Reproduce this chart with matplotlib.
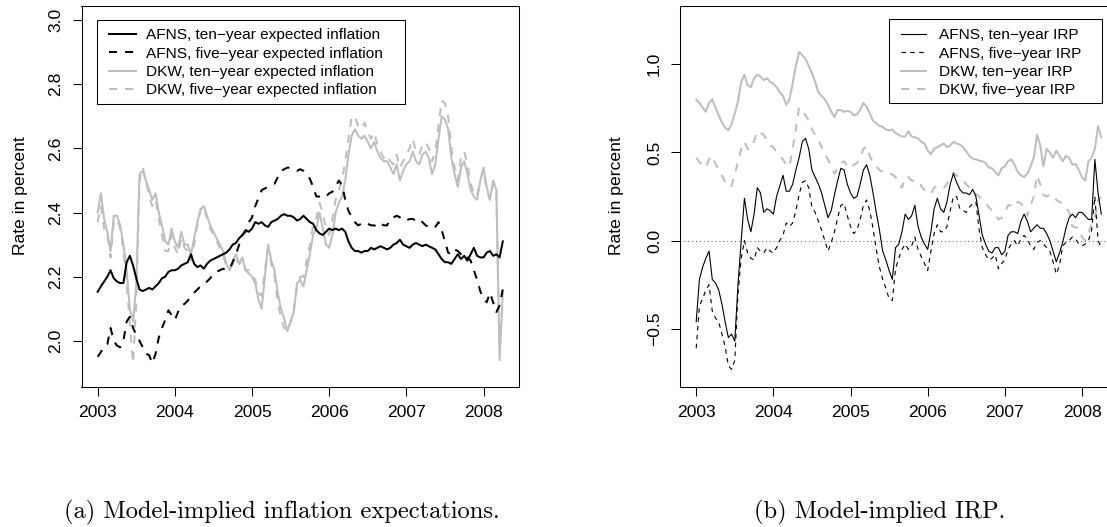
import numpy as np
import matplotlib
matplotlib.use('Agg')
import matplotlib.pyplot as plt
from matplotlib.lines import Line2D
from matplotlib.patches import Rectangle

plt.rcParams['font.family'] = ['Liberation Sans', 'DejaVu Sans']

# semi-monthly observation dates, 2003.0 .. 2008.25
dates = 2003 + np.arange(127) / 24.0

# (a) inflation expectations, percent
afns10_infl = [
    2.153, 2.17, 2.185, 2.2, 2.22, 2.195, 2.185, 2.18, 2.18, 2.245, 2.265, 2.235,
    2.195, 2.16, 2.155, 2.16, 2.165, 2.16, 2.17, 2.18, 2.195, 2.2, 2.215, 2.22,
    2.22, 2.225, 2.235, 2.24, 2.245, 2.27, 2.24, 2.23, 2.235, 2.225, 2.24, 2.25,
    2.255, 2.26, 2.265, 2.27, 2.275, 2.285, 2.30, 2.305, 2.32, 2.33, 2.345, 2.34,
    2.35, 2.37, 2.365, 2.37, 2.36, 2.355, 2.37, 2.375, 2.38, 2.39, 2.395, 2.39,
    2.39, 2.385, 2.375, 2.38, 2.39, 2.38, 2.37, 2.365, 2.345, 2.335, 2.33, 2.34,
    2.35, 2.345, 2.35, 2.345, 2.35, 2.34, 2.31, 2.29, 2.28, 2.28, 2.275, 2.28,
    2.28, 2.29, 2.285, 2.29, 2.295, 2.29, 2.285, 2.29, 2.30, 2.305, 2.315, 2.30,
    2.295, 2.29, 2.30, 2.305, 2.30, 2.295, 2.30, 2.295, 2.29, 2.285, 2.27, 2.255,
    2.245, 2.245, 2.24, 2.255, 2.27, 2.255, 2.265, 2.25, 2.27, 2.29, 2.265, 2.26,
    2.26, 2.275, 2.28, 2.265, 2.27, 2.26, 2.31]
afns5_infl = [
    1.95, 1.965, 1.985, 1.99, 2.04, 2.0, 1.985, 1.98, 2.0, 2.06, 2.075, 2.04,
    2.02, 2.0, 1.98, 1.96, 1.955, 1.93, 1.96, 2.01, 2.04, 2.065, 2.095, 2.08,
    2.065, 2.09, 2.11, 2.115, 2.125, 2.14, 2.15, 2.16, 2.17, 2.175, 2.185, 2.195,
    2.21, 2.215, 2.22, 2.225, 2.22, 2.225, 2.245, 2.27, 2.30, 2.33, 2.34, 2.37,
    2.385, 2.42, 2.445, 2.47, 2.475, 2.48, 2.485, 2.49, 2.51, 2.53, 2.535, 2.54,
    2.54, 2.535, 2.53, 2.535, 2.53, 2.52, 2.505, 2.48, 2.45, 2.45, 2.455, 2.45,
    2.46, 2.465, 2.48, 2.5, 2.485, 2.44, 2.405, 2.385, 2.37, 2.36, 2.365, 2.37,
    2.365, 2.36, 2.36, 2.355, 2.365, 2.36, 2.36, 2.38, 2.385, 2.39, 2.385, 2.375,
    2.375, 2.38, 2.38, 2.375, 2.38, 2.37, 2.36, 2.355, 2.35, 2.355, 2.37, 2.345,
    2.31, 2.275, 2.27, 2.285, 2.28, 2.27, 2.275, 2.26, 2.25, 2.22, 2.19, 2.155,
    2.13, 2.12, 2.15, 2.12, 2.09, 2.11, 2.16]
dkw10_infl = [
    2.40, 2.46, 2.38, 2.34, 2.28, 2.39, 2.39, 2.36, 2.30, 2.22, 2.10, 2.06,
    2.18, 2.52, 2.53, 2.50, 2.47, 2.44, 2.46, 2.40, 2.36, 2.31, 2.30, 2.35,
    2.31, 2.29, 2.34, 2.30, 2.30, 2.27, 2.32, 2.37, 2.41, 2.42, 2.39, 2.36,
    2.34, 2.32, 2.30, 2.28, 2.24, 2.22, 2.25, 2.27, 2.24, 2.26, 2.22, 2.21,
    2.20, 2.18, 2.13, 2.10, 2.20, 2.30, 2.25, 2.22, 2.15, 2.10, 2.07, 2.03,
    2.06, 2.09, 2.18, 2.19, 2.17, 2.22, 2.27, 2.33, 2.35, 2.40, 2.35, 2.30,
    2.29, 2.33, 2.40, 2.43, 2.45, 2.50, 2.58, 2.64, 2.66, 2.64, 2.63, 2.64,
    2.62, 2.60, 2.62, 2.59, 2.57, 2.56, 2.56, 2.54, 2.52, 2.55, 2.50, 2.53,
    2.55, 2.56, 2.59, 2.56, 2.55, 2.58, 2.59, 2.57, 2.52, 2.55, 2.63, 2.70,
    2.69, 2.66, 2.57, 2.52, 2.48, 2.54, 2.56, 2.52, 2.47, 2.45, 2.44, 2.50,
    2.54, 2.48, 2.44, 2.50, 2.47, 1.94, 2.15]
dkw5_infl = [
    2.37, 2.42, 2.35, 2.33, 2.26, 2.37, 2.38, 2.35, 2.28, 2.18, 2.05, 1.93,
    2.12, 2.50, 2.54, 2.50, 2.45, 2.42, 2.44, 2.38, 2.33, 2.28, 2.28, 2.33,
    2.29, 2.27, 2.32, 2.29, 2.28, 2.25, 2.30, 2.36, 2.41, 2.42, 2.38, 2.35,
    2.33, 2.31, 2.29, 2.27, 2.23, 2.22, 2.24, 2.26, 2.24, 2.25, 2.22, 2.22,
    2.21, 2.19, 2.15, 2.14, 2.22, 2.29, 2.24, 2.20, 2.12, 2.07, 2.04, 2.03,
    2.06, 2.10, 2.17, 2.20, 2.20, 2.25, 2.30, 2.36, 2.38, 2.43, 2.40, 2.35,
    2.33, 2.38, 2.44, 2.47, 2.50, 2.56, 2.63, 2.70, 2.70, 2.67, 2.66, 2.68,
    2.65, 2.63, 2.65, 2.61, 2.59, 2.57, 2.58, 2.56, 2.55, 2.58, 2.54, 2.56,
    2.58, 2.60, 2.63, 2.59, 2.58, 2.61, 2.62, 2.60, 2.56, 2.59, 2.67, 2.75,
    2.74, 2.70, 2.60, 2.54, 2.50, 2.57, 2.59, 2.55, 2.49, 2.46, 2.45, 2.50,
    2.53, 2.47, 2.44, 2.49, 2.46, 1.97, 2.13]

# (b) inflation risk premia, percent
afns10_irp = [
    -0.46, -0.22, -0.15, -0.10, -0.06, -0.22, -0.24, -0.28, -0.36, -0.46, -0.55, -0.53,
    -0.57, -0.25, 0.0, 0.24, 0.12, 0.05, 0.15, 0.30, 0.27, 0.16, 0.18, 0.17,
    0.15, 0.25, 0.31, 0.37, 0.28, 0.28, 0.32, 0.40, 0.47, 0.56, 0.58, 0.52,
    0.40, 0.36, 0.32, 0.27, 0.20, 0.13, 0.17, 0.26, 0.34, 0.41, 0.40, 0.32,
    0.27, 0.24, 0.25, 0.32, 0.40, 0.43, 0.37, 0.27, 0.16, 0.06, -0.06, -0.11,
    -0.17, -0.22, -0.04, -0.02, 0.05, 0.15, 0.12, 0.14, 0.20, 0.08, 0.02, -0.02,
    -0.05, 0.05, 0.18, 0.24, 0.18, 0.16, 0.22, 0.32, 0.38, 0.33, 0.29, 0.27,
    0.27, 0.26, 0.29, 0.25, 0.14, 0.03, -0.02, -0.06, -0.07, -0.04, -0.04, -0.08,
    -0.06, 0.03, 0.05, 0.05, 0.04, 0.11, 0.15, 0.11, 0.05, 0.07, 0.09, 0.07,
    0.07, 0.04, 0.0, -0.06, -0.12, -0.07, -0.01, 0.07, 0.13, 0.15, 0.13, 0.16,
    0.16, 0.14, 0.12, 0.12, 0.46, 0.27, 0.15]
afns5_irp = [
    -0.61, -0.37, -0.33, -0.28, -0.25, -0.40, -0.44, -0.46, -0.53, -0.60, -0.71, -0.73,
    -0.68, -0.30, -0.10, 0.0, -0.07, -0.10, -0.11, -0.04, -0.06, -0.07, -0.04, -0.06,
    -0.07, -0.04, 0.0, 0.03, 0.10, 0.08, 0.10, 0.17, 0.26, 0.33, 0.34, 0.30,
    0.19, 0.16, 0.11, 0.06, 0.0, -0.06, -0.01, 0.05, 0.13, 0.20, 0.21, 0.14,
    0.08, 0.04, 0.06, 0.12, 0.20, 0.23, 0.17, 0.07, -0.05, -0.15, -0.22, -0.27,
    -0.33, -0.34, -0.16, -0.10, -0.05, -0.02, -0.05, -0.03, 0.02, -0.05, -0.09, -0.13,
    -0.17, -0.06, 0.04, 0.09, 0.05, 0.05, 0.08, 0.17, 0.25, 0.25, 0.18, 0.17,
    0.16, 0.19, 0.21, 0.22, 0.06, -0.04, -0.08, -0.11, -0.10, -0.08, -0.16, -0.13,
    -0.11, -0.05, -0.02, 0.0, -0.03, 0.01, 0.03, 0.01, -0.03, -0.05, -0.01, 0.0,
    -0.02, -0.04, -0.06, -0.12, -0.19, -0.14, -0.03, -0.01, 0.0, 0.02, 0.01, -0.02,
    -0.03, -0.02, 0.0, 0.06, 0.25, 0.0, -0.04]
dkw10_irp = [
    0.80, 0.78, 0.755, 0.73, 0.78, 0.80, 0.755, 0.71, 0.67, 0.64, 0.625, 0.66,
    0.72, 0.79, 0.90, 0.94, 0.88, 0.87, 0.92, 0.94, 0.93, 0.91, 0.92, 0.90,
    0.89, 0.87, 0.84, 0.82, 0.77, 0.80, 0.89, 0.99, 1.07, 1.05, 1.03, 0.99,
    0.95, 0.90, 0.84, 0.82, 0.80, 0.77, 0.73, 0.70, 0.74, 0.74, 0.73, 0.735,
    0.73, 0.71, 0.715, 0.74, 0.78, 0.76, 0.72, 0.68, 0.665, 0.65, 0.645, 0.63,
    0.625, 0.63, 0.61, 0.60, 0.59, 0.59, 0.62, 0.59, 0.585, 0.58, 0.56, 0.55,
    0.51, 0.49, 0.52, 0.53, 0.54, 0.55, 0.53, 0.54, 0.56, 0.55, 0.545, 0.53,
    0.505, 0.48, 0.465, 0.46, 0.453, 0.45, 0.44, 0.415, 0.41, 0.39, 0.37, 0.41,
    0.42, 0.45, 0.46, 0.43, 0.39, 0.37, 0.36, 0.38, 0.42, 0.47, 0.60, 0.54,
    0.42, 0.52, 0.50, 0.47, 0.51, 0.48, 0.45, 0.48, 0.47, 0.43, 0.435, 0.40,
    0.36, 0.34, 0.45, 0.47, 0.52, 0.65, 0.585]
dkw5_irp = [
    0.47, 0.445, 0.43, 0.415, 0.46, 0.48, 0.435, 0.40, 0.37, 0.33, 0.305, 0.31,
    0.375, 0.45, 0.52, 0.56, 0.52, 0.52, 0.565, 0.62, 0.61, 0.60, 0.57, 0.54,
    0.53, 0.50, 0.48, 0.46, 0.43, 0.42, 0.52, 0.63, 0.755, 0.74, 0.71, 0.68,
    0.63, 0.60, 0.57, 0.53, 0.49, 0.46, 0.42, 0.38, 0.41, 0.44, 0.45, 0.42,
    0.41, 0.43, 0.44, 0.47, 0.52, 0.535, 0.48, 0.44, 0.42, 0.40, 0.39, 0.38,
    0.38, 0.375, 0.36, 0.33, 0.30, 0.36, 0.36, 0.34, 0.34, 0.34, 0.31, 0.285,
    0.27, 0.265, 0.30, 0.31, 0.30, 0.30, 0.32, 0.36, 0.385, 0.37, 0.35, 0.34,
    0.32, 0.30, 0.275, 0.265, 0.25, 0.23, 0.21, 0.19, 0.17, 0.15, 0.12, 0.13,
    0.16, 0.20, 0.20, 0.19, 0.22, 0.21, 0.19, 0.14, 0.20, 0.25, 0.37, 0.32,
    0.26, 0.25, 0.26, 0.26, 0.23, 0.22, 0.21, 0.19, 0.16, 0.08, 0.075, 0.07,
    0.02, 0.0, 0.04, 0.10, 0.13, 0.23, 0.245]

years = [2003, 2004, 2005, 2006, 2007, 2008]
infl_ticks = [2.0, 2.2, 2.4, 2.6, 2.8, 3.0]
irp_ticks = [-0.5, 0.0, 0.5, 1.0]
infl_labels = ['AFNS, ten\u2212year expected inflation', 'AFNS, five\u2212year expected inflation',
               'DKW, ten\u2212year expected inflation', 'DKW, five\u2212year expected inflation']
irp_labels = ['AFNS, ten\u2212year IRP', 'AFNS, five\u2212year IRP',
              'DKW, ten\u2212year IRP', 'DKW, five\u2212year IRP']

W, H = 1107, 527
grey = '#bebebe'
dash = (0, (4, 4))
thick, thin = 1.45, 0.8
fs = 12.6
lfs = 11.1

fig = plt.figure(figsize=(W / 100, H / 100), dpi=100)
ax1 = fig.add_axes([81.5 / W, 1 - 387 / H, 437.5 / W, 381 / H])
ax2 = fig.add_axes([680 / W, 1 - 387 / H, 437.5 / W, 381 / H])


def style(ax, ylim, yticks):
    ax.set_xlim(2002.79, 2008.46)
    ax.set_ylim(*ylim)
    ax.set_xticks(years)
    ax.set_xticklabels([str(y) for y in years])
    ax.set_yticks(yticks)
    ax.set_yticklabels([('%.1f' % v).replace('-', '\u2212') for v in yticks])
    ax.tick_params(direction='out', length=6.5, width=0.75, labelsize=fs, pad=6.5)
    ax.tick_params(axis='y', labelrotation=90)
    for lab in ax.get_yticklabels():
        lab.set_va('center')
    for sp in ax.spines.values():
        sp.set_linewidth(0.75)


def legend_box(ax, handles, labels, box, line_x, top_y, hlen, tpad):
    # box = (x0, y0, x1, y1) in pixels from the top-left corner
    x0, y0, x1, y1 = box
    ax.add_patch(Rectangle((x0 / W, 1 - y1 / H), (x1 - x0) / W, (y1 - y0) / H,
                           transform=fig.transFigure, facecolor='white',
                           edgecolor='black', lw=0.75, zorder=4, clip_on=False))
    ax.legend(handles, labels, loc='upper left', bbox_to_anchor=(line_x / W, 1 - top_y / H),
              bbox_transform=fig.transFigure, borderaxespad=0, borderpad=0, frameon=False,
              fontsize=lfs, handlelength=hlen, handletextpad=tpad, labelspacing=0.28)


# left panel
ax1.plot(dates, dkw10_infl, color=grey, lw=thick)
ax1.plot(dates, dkw5_infl, color=grey, lw=thick, ls=dash)
ax1.plot(dates, afns10_infl, color='black', lw=thick)
ax1.plot(dates, afns5_infl, color='black', lw=thick, ls=dash)
style(ax1, (1.856, 3.044), infl_ticks)

h1 = [Line2D([], [], color='black', lw=thick), Line2D([], [], color='black', lw=thick, ls=dash),
      Line2D([], [], color=grey, lw=thick), Line2D([], [], color=grey, lw=thick, ls=dash)]
legend_box(ax1, h1, infl_labels, (97.5, 20, 405, 104), 109, 28.5, 1.75, 0.65)

# right panel
ax2.axhline(0, color='#555555', lw=0.7, ls=(0, (1, 3)))
ax2.plot(dates, dkw10_irp, color=grey, lw=thick)
ax2.plot(dates, dkw5_irp, color=grey, lw=thick, ls=dash)
ax2.plot(dates, afns10_irp, color='black', lw=thin)
ax2.plot(dates, afns5_irp, color='black', lw=thin, ls=dash)
style(ax2, (-0.83, 1.33), irp_ticks)

h2 = [Line2D([], [], color='black', lw=thin), Line2D([], [], color='black', lw=thin, ls=dash),
      Line2D([], [], color=grey, lw=thick), Line2D([], [], color=grey, lw=thick, ls=dash)]
legend_box(ax2, h2, irp_labels, (889, 19, 1102, 103), 901, 28.5, 1.62, 0.84)

# axis titles and captions
fig.text(20.5 / W, 1 - 196 / H, 'Rate in percent', rotation=90, ha='center', va='center', fontsize=fs)
fig.text(617 / W, 1 - 196 / H, 'Rate in percent', rotation=90, ha='center', va='center', fontsize=fs)
fig.text(281.7 / W, 1 - 518.3 / H, '(a) Model-implied inflation expectations.',
         family='cmr10', fontsize=17.6, ha='center', va='baseline')
fig.text(880 / W, 1 - 518.3 / H, '(b) Model-implied IRP.',
         family='cmr10', fontsize=17.6, ha='center', va='baseline')

fig.savefig('out.png', dpi=100)
